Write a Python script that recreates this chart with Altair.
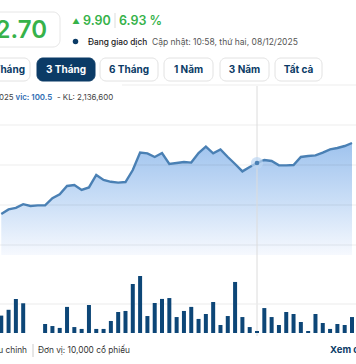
import altair as alt
import pandas as pd

# ---- data ----
price = [87.75, 88.9, 89.3, 90.2, 89.75, 89.9, 89.9, 91.7, 92.7, 94.75, 95.0, 93.75,
         94.4, 97.5, 96.25, 95.8, 95.6, 95.75, 98.75, 103.1, 102.9, 102.0, 103.0,
         100.25, 100.5, 100.75, 100.6, 103.0, 104.6, 102.9, 103.9, 102.0, 100.25,
         98.4, 99.5, 100.5, 101.25, 101.0, 99.9, 99.9, 100.0, 102.0, 102.25, 102.4,
         103.1, 103.9, 104.25, 104.75, 105.5]
volume = [120, 160, 235, 205, None, None, 62, 48, 35, 180, 41, 28, 193, 28, 28, 83,
          145, 152, 338, 393, 117, 207, 235, 241, 110, 152, 180, 97, 131, 214, 55,
          117, 352, 110, 41, 14, 172, 110, 55, 145, 131, 76, 14, 131, 69, 28, 62, 55, 110]
price_grid = [120, 110, 100, 90, 80]
price_floor = 77.5
vol_grid = [200]
hover_day = 35
buttons = ["1 Tháng", "3 Tháng", "6 Tháng", "1 Năm", "3 Năm", "Tất cả"]

days = list(range(len(price)))
df = pd.DataFrame({"day": days, "price": price, "volume": volume})
df["floor"] = price_floor
df["zero"] = 0
dfv = df.dropna(subset=["volume"])

NAVY = "#0b3b66"
GREEN = "#36b24a"
LINE = "#4a80b4"
FONT = "Inter"

xs = alt.Scale(domain=[0, 48], range=[-3.73, 357.0])
ys = alt.Scale(domain=[77.5, 122.5], range=[255, 75])
vs = alt.Scale(domain=[0, 400], range=[333, 275])
X = alt.X("day:Q", scale=xs, axis=None)

one = alt.Data(values=[{}])

grad = alt.Gradient(gradient="linear",
                    stops=[alt.GradientStop(color="#9fc3ee", offset=0),
                           alt.GradientStop(color="#cde0f7", offset=0.55),
                           alt.GradientStop(color="#f6f9fe", offset=1)],
                    x1=0, x2=0, y1=0, y2=1)
area = alt.Chart(df).mark_area(fill=grad, line=False, opacity=1).encode(
    x=X, y=alt.Y("price:Q", scale=ys, axis=None), y2="floor:Q")

# price gridlines (drawn over the area, faintly)
grid_main = alt.Chart(pd.DataFrame({"g": [g for g in price_grid if g != 120]})).mark_rule(
    color="#000000", opacity=0.075, strokeWidth=1).encode(y=alt.Y("g:Q", scale=ys, axis=None))
grid_top = alt.Chart(pd.DataFrame({"g": [120]})).mark_rule(
    color="#000000", opacity=0.075, strokeWidth=1).encode(
    y=alt.Y("g:Q", scale=ys, axis=None), x=alt.value(122), x2=alt.value(356))

line = alt.Chart(df).mark_line(color=LINE, strokeWidth=2.4).encode(
    x=X, y=alt.Y("price:Q", scale=ys, axis=None))

hdf = df[df.day == hover_day]
cross = alt.Chart(hdf).mark_rule(color="#dcdcdc", strokeWidth=1).encode(
    x=X, y=alt.value(86), y2=alt.value(336))
halo = alt.Chart(hdf).mark_circle(color="#bcd5f2", opacity=0.7, size=150).encode(
    x=X, y=alt.Y("price:Q", scale=ys, axis=None))
dot = alt.Chart(hdf).mark_circle(color=LINE, opacity=1, size=22).encode(
    x=X, y=alt.Y("price:Q", scale=ys, axis=None))

vgrid = alt.Chart(pd.DataFrame({"g": vol_grid})).mark_rule(color="#ebebeb").encode(
    y=alt.Y("g:Q", scale=vs, axis=None))
bars = alt.Chart(dfv).mark_bar(color="#0d4677", size=4).encode(
    x=X, y=alt.Y("volume:Q", scale=vs, axis=None), y2="zero:Q")


def txt(x, y, s, size, color, weight=400, align="left", baseline="alphabetic"):
    return alt.Chart(alt.Data(values=[{"t": s}])).mark_text(
        font=FONT, fontSize=size, color=color, fontWeight=weight, align=align,
        baseline=baseline).encode(x=alt.value(x), y=alt.value(y), text="t:N")


def box(x1, x2, y1, y2, fill="white", stroke="#e2e2e2", r=6):
    return alt.Chart(one).mark_rect(fill=fill, stroke=stroke, strokeWidth=1,
                                    cornerRadius=r).encode(
        x=alt.value(x1), x2=alt.value(x2), y=alt.value(y1), y2=alt.value(y2))


def vline(x, y1, y2, color):
    return alt.Chart(one).mark_rule(color=color).encode(
        x=alt.value(x), y=alt.value(y1), y2=alt.value(y2))


deco = [
    box(-12, 60, 12, 47, fill="white", stroke="#e6e6e6", r=7),
    txt(47, 37.5, "152.70", 24, GREEN, 600, "right"),
    txt(76, 23.5, "▲", 7.5, GREEN, 400, "center"),
    txt(83, 25, "9.90", 12.5, GREEN, 600),
    vline(115, 13, 28, "#dddddd"),
    txt(119, 25, "6.93 %", 12.5, GREEN, 600),
    alt.Chart(one).mark_circle(color=NAVY, opacity=1, size=30).encode(
        x=alt.value(75.5), y=alt.value(41.5)),
    txt(88, 44.5, "Đang giao dịch", 8.3, "#1a1a1a", 500),
    txt(152, 44.5, "Cập nhật: 10:58, thứ hai, 08/12/2025", 8.5, "#555555", 400),
]

btn_pos = [(-22, 30), (37, 95), (100, 158), (164, 213), (220, 269), (275, 322)]
for name, (a, b) in zip(buttons, btn_pos):
    sel = name == "3 Tháng"
    deco.append(box(a, b, 58, 81, fill=NAVY if sel else "white",
                    stroke=NAVY if sel else "#e2e2e2", r=6))
    cx = 6 if a < 0 else (a + b) / 2
    deco.append(txt(cx, 69.8, name, 10, "white" if sel else NAVY, 700, "center", "middle"))

deco += [
    txt(13.5, 99.5, "2025", 7.9, "#444444", 400, "right"),
    txt(15.5, 99.5, "vic: 100.5", 7.9, "#2f6db3", 600),
    txt(57, 99.5, "- KL: 2,136,600", 7.9, "#444444", 400),
    txt(27, 353, "Giá điều chỉnh", 8.3, "#333333", 400, "right"),
    vline(33, 344, 357, "#cccccc"),
    txt(38, 353, "Đơn vị: 10,000 cổ phiếu", 8.3, "#333333", 400),
    txt(330, 353, "Xem chi tiết", 9.5, NAVY, 700),
]

chart = alt.layer(
    area, grid_main, grid_top, line, cross, halo, dot, vgrid, bars, *deco
).resolve_scale(y="independent").properties(
    width=356, height=364, autosize=alt.AutoSizeParams(type="none"), padding=0,
    background="white"
).configure_view(stroke=None)

chart.save("out.html", embed_options={"renderer": "svg", "actions": False})
